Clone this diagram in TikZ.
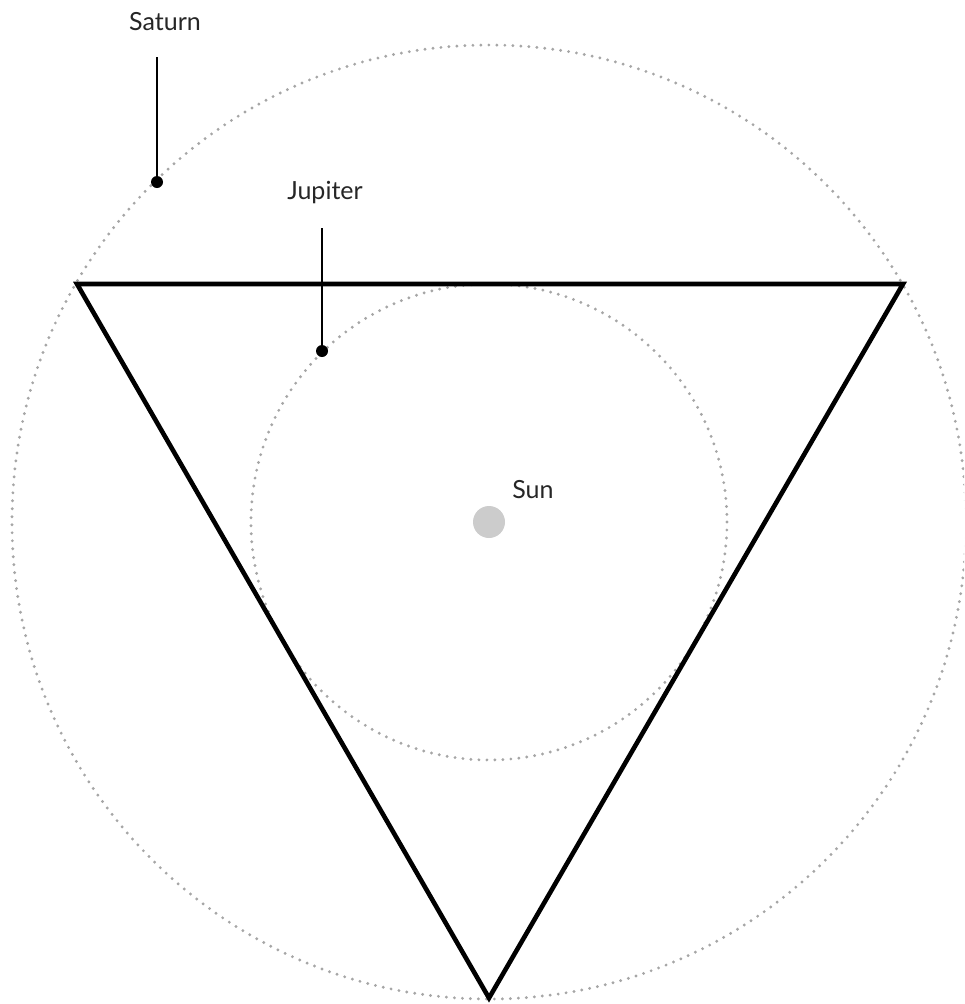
\documentclass[tikz,border=0pt]{standalone}
\usepackage{fontspec}
\setmainfont{Lato}
\usepackage{tikz}
\usetikzlibrary{positioning,calc}

\begin{document}
\begin{tikzpicture}[
    x=1pt, y=-1pt,
    font=\fontsize{25}{28}\selectfont,
    orbit/.style={draw=gray!70, line width=3.2pt, dash pattern=on 0pt off 8pt, line cap=round},
    tri/.style={draw=black, line width=4.6pt, line join=miter},
    leader/.style={draw=black, line width=1.8pt},
    planet/.style={circle, fill=black, inner sep=0pt, minimum size=12pt},
    sunball/.style={circle, fill=gray!40, inner sep=0pt, minimum size=32pt},
    lbl/.style={inner sep=0pt, text=black!85}
]
\useasboundingbox (0,0) rectangle (964,1004);
\clip (0,0) rectangle (964,1004);

% orbits
\coordinate (c) at (489,522);
\draw[orbit] (c) circle[radius=477];
\draw[orbit] (c) circle[radius=238];

% triangle
\coordinate (tl) at (77,284);
\coordinate (tr) at (903,284);
\coordinate (tb) at (489,998);
\draw[tri] (tl) -- (tr) -- (tb) -- cycle;

% sun
\node[sunball] (sun) at (c) {};
\node[lbl] (sunl) at (533,490) {Sun};

% saturn
\node[planet] (sat) at (157,182) {};
\node[lbl] (satl) at (165,22) {Saturn};
\draw[leader] (sat.center) -- (157,57);

% jupiter
\node[planet] (jup) at (322,351) {};
\node[lbl] (jupl) at (325,193) {Jupiter};
\draw[leader] (jup.center) -- (322,228);

\end{tikzpicture}
\end{document}
